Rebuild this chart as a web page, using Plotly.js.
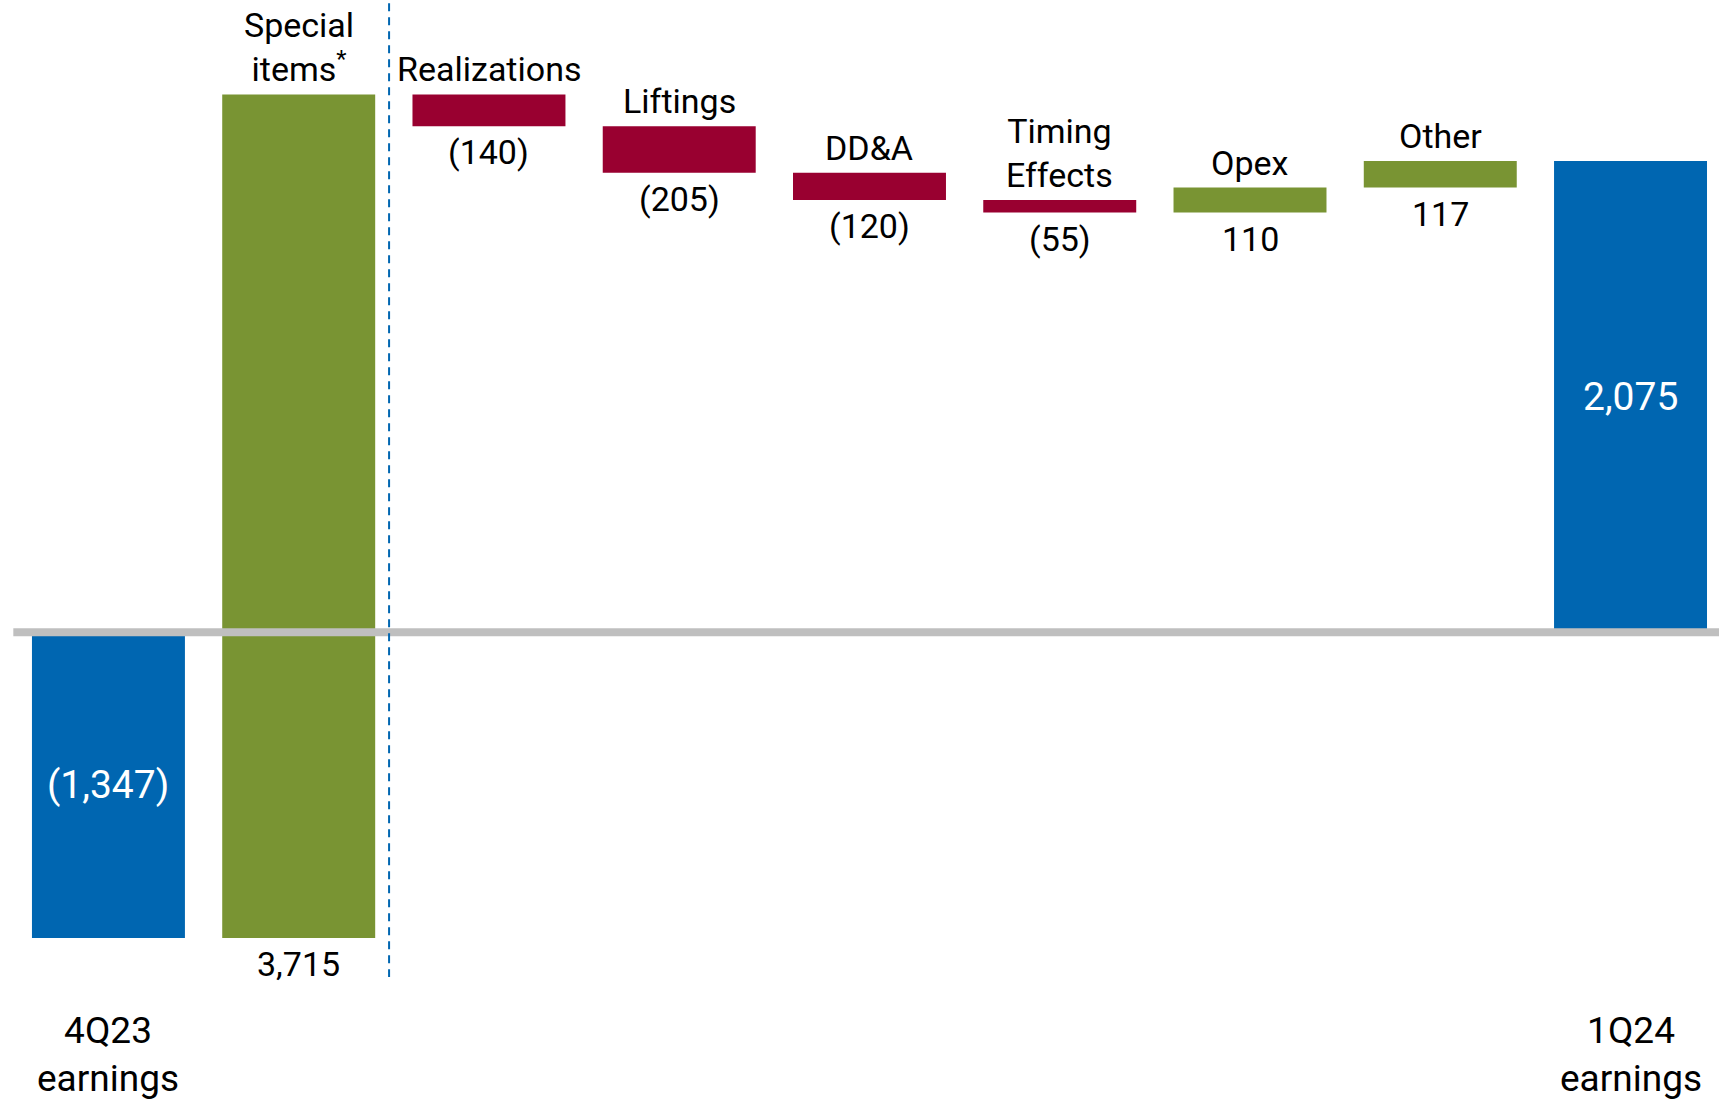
<!DOCTYPE html>
<html><head><meta charset="utf-8">
<script src="https://cdn.plot.ly/plotly-3.0.1.min.js"></script>
<style>html,body{margin:0;padding:0;background:#fff}#chart{width:1719px;height:1104px}</style>
</head><body><div id="chart"></div>
<script>
// ---- data ----
const categories = ['4Q23 earnings', 'Special items*', 'Realizations', 'Liftings', 'DD&A', 'Timing Effects', 'Opex', 'Other', '1Q24 earnings'];
const categoryLabels = ['4Q23<br>earnings', 'Special<br>items<sup>*</sup>', 'Realizations', 'Liftings', 'DD&A', 'Timing<br>Effects', 'Opex', 'Other', '1Q24<br>earnings'];
const measures = ['absolute', 'relative', 'relative', 'relative', 'relative', 'relative', 'relative', 'relative', 'total'];
const values = [-1347, 3715, -140, -205, -120, -55, 110, 117, 2075];

// ---- styles ----
const BLUE = '#0066B1', GREEN = '#799433', RED = '#990030';
const FONT = 'Roboto, "Open Sans", sans-serif';

function fmt(v) {
  const s = Math.abs(v).toLocaleString('en-US');
  return v < 0 ? '(' + s + ')' : s;
}

// running totals
let run = 0;
const starts = [], ends = [];
measures.forEach((m, i) => {
  if (m === 'absolute') { starts.push(0); run = values[i]; ends.push(run); }
  else if (m === 'total') { starts.push(0); ends.push(run); }
  else { starts.push(run); run += values[i]; ends.push(run); }
});

const annotations = [];
measures.forEach((m, i) => {
  const lo = Math.min(starts[i], ends[i]), hi = Math.max(starts[i], ends[i]);
  if (m === 'relative') {
    annotations.push({x: categories[i], y: hi, xref: 'x', yref: 'y', text: categoryLabels[i],
      showarrow: false, yanchor: 'bottom', yshift: 3, font: {family: FONT, size: 34, color: '#000'}});
    annotations.push({x: categories[i], y: lo, xref: 'x', yref: 'y', text: fmt(values[i]),
      showarrow: false, yanchor: 'top', yshift: -4, font: {family: FONT, size: 34, color: '#000'}});
  } else {
    const v = m === 'total' ? ends[i] : values[i];
    annotations.push({x: categories[i], y: (lo + hi) / 2, xref: 'x', yref: 'y', text: fmt(v),
      showarrow: false, yanchor: 'middle', font: {family: FONT, size: 39, color: '#fff'}});
    annotations.push({x: categories[i], y: 0.045, xref: 'x', yref: 'paper', text: categoryLabels[i],
      showarrow: false, yanchor: 'middle', font: {family: FONT, size: 37, color: '#000'}});
  }
});

const trace = {
  type: 'waterfall',
  x: categories,
  y: values,
  measure: measures,
  width: 0.804,
  textinfo: 'none',
  connector: {visible: false},
  increasing: {marker: {color: GREEN, line: {width: 0}}},
  decreasing: {marker: {color: RED, line: {width: 0}}},
  totals: {marker: {color: BLUE, line: {width: 0}}},
  hoverinfo: 'skip'
};

const layout = {
  width: 1719, height: 1104,
  margin: {l: 0, r: 0, t: 0, b: 0},
  paper_bgcolor: '#fff', plot_bgcolor: '#fff',
  showlegend: false,
  xaxis: {type: 'category', range: [-0.570, 8.465], showticklabels: false, showgrid: false, zeroline: false, showline: false, ticks: ''},
  yaxis: {range: [-2077.5, 2784], showticklabels: false, showgrid: false, zeroline: false, showline: false, ticks: ''},
  annotations: annotations,
  shapes: [
    {type: 'line', xref: 'x', yref: 'y', x0: -0.5, x1: 8.6, y0: 0, y1: 0, layer: 'above',
     line: {color: '#BFBFBF', width: 8}},
    {type: 'line', xref: 'x', yref: 'y', x0: 1.475, x1: 1.475, y0: 2770, y1: -1518, layer: 'above',
     line: {color: BLUE, width: 2, dash: '8px,6px'}}
  ]
};

Plotly.newPlot('chart', [trace], layout, {displayModeBar: false, staticPlot: true});
</script>
</body></html>
